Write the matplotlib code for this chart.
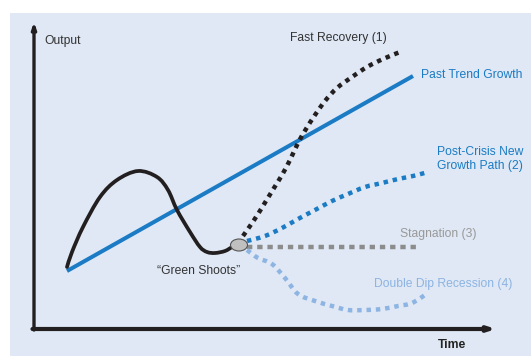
import matplotlib
matplotlib.use("Agg")
import matplotlib.pyplot as plt
from matplotlib.patches import Rectangle, Ellipse, PathPatch
from matplotlib.path import Path

plt.rcParams['font.family'] = ['Liberation Sans', 'DejaVu Sans']

# ---- data (time, output) in arbitrary chart units ----
trend_t = [33, 379]
trend_y = [58, 253]

crisis_t = [33, 38, 49, 66, 83, 104, 123, 134, 143, 156, 166, 173, 181, 191, 198]
crisis_y = [62, 77, 102, 132, 149, 158, 152, 139, 119, 97, 82, 77, 76, 78, 82]

fast_t = [209, 216, 224, 232, 240, 248, 256, 264, 272, 281, 291, 303, 318, 333, 349, 366]
fast_y = [93, 103, 115, 128, 141, 154, 169, 186, 200, 214, 228, 241, 252, 262, 270, 277]

newpath_t = [213, 231, 248, 264, 281, 298, 314, 331, 348, 364, 379, 394]
newpath_y = [88, 93, 101, 110, 119, 128, 135, 142, 146, 150, 153, 157]

stag_t = [213, 384]
stag_y = [82, 82]

dip_t = [213, 224, 238, 251, 264, 281, 298, 314, 331, 348, 364, 378, 394]
dip_y = [79, 71, 65, 51, 35, 28, 23, 19, 19, 20, 23, 26, 36]

shoots_t, shoots_y = 205, 84

# ---- colours ----
BG = '#dfe8f4'
BLUE = '#1b7bc4'
LIGHT = '#8db4e2'
GRAY = '#8c8c8c'
BLACK = '#231f20'


def smooth_path(xs, ys):
    """Bezier path through the given points (Catmull-Rom tangents)."""
    pts = list(zip(xs, ys))
    verts = [pts[0]]
    codes = [Path.MOVETO]
    n = len(pts)
    for i in range(n - 1):
        p0 = pts[i - 1] if i > 0 else pts[i]
        p1 = pts[i]
        p2 = pts[i + 1]
        p3 = pts[i + 2] if i + 2 < n else pts[i + 1]
        c1 = (p1[0] + (p2[0] - p0[0]) / 6.0, p1[1] + (p2[1] - p0[1]) / 6.0)
        c2 = (p2[0] - (p3[0] - p1[0]) / 6.0, p2[1] - (p3[1] - p1[1]) / 6.0)
        verts += [c1, c2, p2]
        codes += [Path.CURVE4] * 3
    return Path(verts, codes)


def curve(ax, xs, ys, **kw):
    patch = PathPatch(smooth_path(xs, ys), facecolor='none', **kw)
    ax.add_patch(patch)
    return patch


fig = plt.figure(figsize=(5.31, 3.56), dpi=100)
ax = fig.add_axes([0, 0, 1, 1])
ax.set_xlim(-34, 497)
ax.set_ylim(-27, 329)
ax.axis('off')

ax.add_patch(Rectangle((-24, -27), 521, 343, facecolor=BG, edgecolor='none', zorder=0))

# axes arrows
ax.annotate('', xy=(0, 307), xytext=(0, -1),
            arrowprops=dict(arrowstyle='-|>,head_length=0.35,head_width=0.12',
                            lw=2.4, color=BLACK, shrinkA=0, shrinkB=0), zorder=2)
ax.annotate('', xy=(462, 0), xytext=(-1.5, 0),
            arrowprops=dict(arrowstyle='-|>,head_length=0.4,head_width=0.13',
                            lw=3.0, color=BLACK, shrinkA=0, shrinkB=0), zorder=2)

ax.plot(trend_t, trend_y, color=BLUE, lw=2.9, solid_capstyle='butt', zorder=3)
curve(ax, crisis_t, crisis_y, edgecolor=BLACK, lw=2.7, capstyle='round', zorder=3)
curve(ax, fast_t, fast_y, edgecolor=BLACK, lw=3.2, ls=(0, (1, 1.1)), zorder=3)
curve(ax, newpath_t, newpath_y, edgecolor=BLUE, lw=3.2, ls=(0, (1, 1.1)), zorder=3)
ax.plot(stag_t, stag_y, color=GRAY, lw=3.2, ls=(0, (1.2, 1.1)), zorder=3)
curve(ax, dip_t, dip_y, edgecolor=LIGHT, lw=3.2, ls=(0, (1, 1.1)), zorder=3)

ax.add_patch(Ellipse((shoots_t, shoots_y), 17, 12, facecolor='#c0c0c0',
                     edgecolor='#555555', lw=0.8, zorder=5))

fs = 8.7
ax.text(10, 288, 'Output', fontsize=fs, color='#333333', ha='left', va='center')
ax.text(256, 291, 'Fast Recovery (1)', fontsize=fs, color='#333333', ha='left', va='center')
ax.text(387, 254, 'Past Trend Growth', fontsize=fs, color=BLUE, ha='left', va='center')
ax.text(489, 170, 'Post-Crisis New\nGrowth Path (2)', fontsize=fs, color=BLUE,
        ha='right', va='center', linespacing=1.2)
ax.text(366, 95, 'Stagnation (3)', fontsize=fs, color='#999999', ha='left', va='center')
ax.text(340, 45, 'Double Dip Recession (4)', fontsize=fs, color=LIGHT, ha='left', va='center')
ax.text(123, 58, '\u201cGreen Shoots\u201d', fontsize=fs, color='#333333', ha='left', va='center')
ax.text(404, -16, 'Time', fontsize=fs, color='#222222', ha='left', va='center',
        fontweight='bold')

fig.savefig('out.png', dpi=100, facecolor='white')
